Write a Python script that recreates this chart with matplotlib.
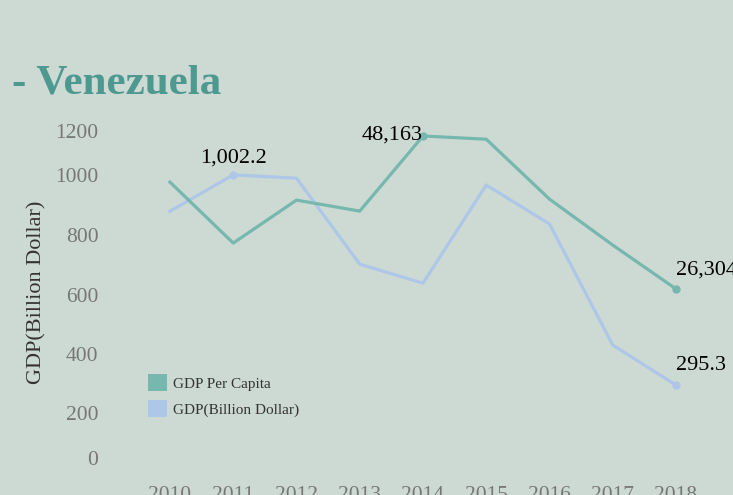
import numpy as np
import matplotlib
matplotlib.use("Agg")
import matplotlib.pyplot as plt
from matplotlib.patches import Patch
from matplotlib.transforms import ScaledTranslation

# data
years = [2010, 2011, 2012, 2013, 2014, 2015, 2016, 2017, 2018]
gdp_billion = [880, 1002.2, 991, 702, 638, 968, 837, 430, 295.3]
gdp_per_capita = [41570, 32860, 39000, 37430, 48163, 47700, 39140, 32570, 26304]
ytick_vals = [0, 200, 400, 600, 800, 1000, 1200]

bg = '#cddad3'
teal = '#76b7ae'
blue = '#aec7e8'
title_col = '#4d9990'
serif = ['Liberation Serif', 'DejaVu Serif']

plt.rcParams['font.family'] = serif

fig = plt.figure(figsize=(7.33, 4.95), dpi=100, facecolor=bg)
ax = fig.add_axes([140 / 733, 22 / 495, 566 / 733, 357 / 495])
ax.set_facecolor(bg)
ax2 = ax.twinx()

ax.plot(years, gdp_billion, color=blue, lw=2.3, zorder=2)
ax2.plot(years, gdp_per_capita, color=teal, lw=2.3, zorder=3)

# end / highlight markers
ax.plot([years[1], years[-1]], [gdp_billion[1], gdp_billion[-1]], 'o', color=blue, ms=5)
ax2.plot([years[4], years[-1]], [gdp_per_capita[4], gdp_per_capita[-1]], 'o', color=teal, ms=5)

ax.set_xlim(2009.526, 2018.474)
ax.set_ylim(0, 1200)
ax2.set_ylim(0, 51020)

for a in (ax, ax2):
    for s in a.spines.values():
        s.set_visible(False)
ax2.set_yticks([])

ax.set_xticks(years)
ax.set_xticklabels([str(y) for y in years])
ax.set_yticks(ytick_vals)
ax.set_yticklabels([str(v) for v in ytick_vals])
ax.tick_params(axis='y', length=0, pad=30, labelsize=15.5, labelcolor='#777777')
ax.tick_params(axis='x', length=0, pad=9, labelsize=15.5, labelcolor='#777777')

# first and last y labels sit inside the axis range
ylabels = ax.get_yticklabels()
ylabels[0].set_transform(ylabels[0].get_transform() + ScaledTranslation(0, 15 / 100, fig.dpi_scale_trans))
ylabels[-1].set_transform(ylabels[-1].get_transform() + ScaledTranslation(0, -15 / 100, fig.dpi_scale_trans))

ax.set_ylabel('GDP(Billion Dollar)', fontsize=16, color='#333333')
ax.yaxis.set_label_coords(-0.165, 0.505)

# value labels
ax.annotate(f'{gdp_billion[1]:,.1f}', (years[1], gdp_billion[1]), xytext=(0, 5),
            textcoords='offset points', ha='center', va='bottom', fontsize=16, color='black')
ax2.annotate(f'{gdp_per_capita[4]:,}', (years[4], gdp_per_capita[4]), xytext=(0, -6.5),
             textcoords='offset points', ha='right', va='bottom', fontsize=16, color='black')
ax2.annotate(f'{gdp_per_capita[-1]:,}', (years[-1], gdp_per_capita[-1]), xytext=(0, 7),
             textcoords='offset points', ha='left', va='bottom', fontsize=16, color='black')
ax.annotate(f'{gdp_billion[-1]:,.1f}', (years[-1], gdp_billion[-1]), xytext=(0, 7),
            textcoords='offset points', ha='left', va='bottom', fontsize=16, color='black')

handles = [Patch(facecolor=teal, label='GDP Per Capita'),
           Patch(facecolor=blue, label='GDP(Billion Dollar)')]
leg = ax.legend(handles=handles, loc='upper left', bbox_to_anchor=(8 / 566, 0.277),
                frameon=False, fontsize=11, handlelength=1.25, handleheight=1.3,
                handletextpad=0.4, labelspacing=0.62, borderaxespad=0, borderpad=0)
for t in leg.get_texts():
    t.set_color('#333333')

fig.text(12 / 733, (495 - 93) / 495, '- Venezuela', fontsize=31, fontweight='bold',
         color=title_col, ha='left', va='baseline')

fig.savefig('out.png', dpi=100, facecolor=bg)
